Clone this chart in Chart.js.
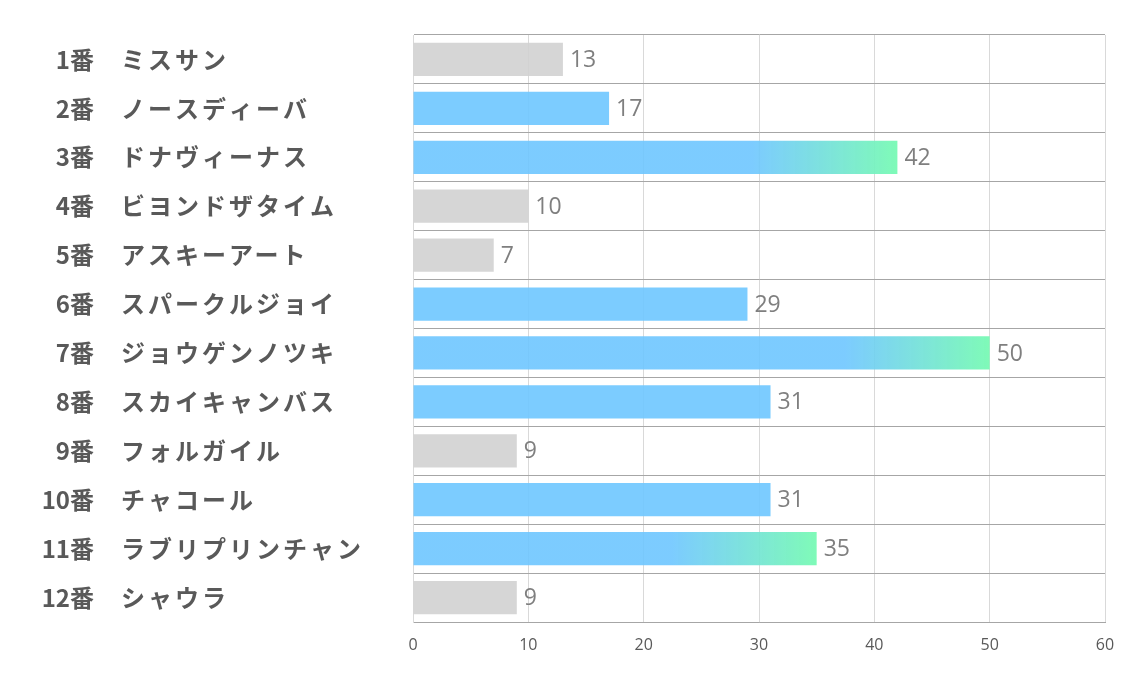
<!DOCTYPE html>
<html lang="ja">
<head>
    <meta charset="UTF-8">
    <title>Chart</title>
    <script src="https://cdn.jsdelivr.net/npm/chart.js@4"></script>
    <style>
        html, body { margin: 0; padding: 0; background: #fff; }
        #wrap { width: 1134px; height: 680px; }
    </style>
</head>
<body>
<div id="wrap"><canvas id="myChart" width="1134" height="680"></canvas></div>
<script>
    // data
    var numbers = ["1番", "2番", "3番", "4番", "5番", "6番", "7番", "8番", "9番", "10番", "11番", "12番"];
    var names = ["ミスサン", "ノースディーバ", "ドナヴィーナス", "ビヨンドザタイム", "アスキーアート", "スパークルジョイ",
        "ジョウゲンノツキ", "スカイキャンバス", "フォルガイル", "チャコール", "ラブリプリンチャン", "シャウラ"];
    var values = [13, 17, 42, 10, 7, 29, 50, 31, 9, 31, 35, 9];
    var xTicks = [0, 10, 20, 30, 40, 50, 60];

    var BLUE = 'rgba(110,198,255,0.9)';
    var GREEN = 'rgba(120,250,180,0.95)';
    var GRAY = 'rgba(208,208,208,0.88)';

    // top three get the gradient, low ones are grey
    var sorted = values.slice().sort(function (a, b) { return b - a; });
    var topLimit = sorted[2];

    function barColor(c) {
        var v = c.raw;
        if (v < 15) return GRAY;
        if (v < topLimit) return BLUE;
        var chart = c.chart;
        if (!chart.chartArea || !chart.scales.x) return BLUE;
        var end = chart.scales.x.getPixelForValue(v);
        var g = chart.ctx.createLinearGradient(end - 145, 0, end, 0);
        g.addColorStop(0, BLUE);
        g.addColorStop(1, GREEN);
        return g;
    }

    var labelPlugin = {
        id: 'labels',
        afterDatasetsDraw: function (chart) {
            var ctx = chart.ctx;
            var y = chart.scales.y;
            var meta = chart.getDatasetMeta(0);
            ctx.save();
            ctx.textBaseline = 'middle';
            for (var i = 0; i < names.length; i++) {
                var py = y.getPixelForValue(i);
                ctx.fillStyle = '#595959';
                ctx.font = 'bold 24px "Noto Sans CJK JP", sans-serif';
                ctx.textAlign = 'right';
                ctx.letterSpacing = '0px';
                ctx.fillText(numbers[i], 94, py);
                ctx.textAlign = 'left';
                ctx.letterSpacing = '3px';
                ctx.fillText(names[i], 121, py);
                ctx.letterSpacing = '0px';
                // value labels
                var bar = meta.data[i];
                ctx.fillStyle = '#7f7f7f';
                ctx.font = '23px "Open Sans", sans-serif';
                ctx.textAlign = 'left';
                ctx.fillText(String(values[i]), bar.x + 7, py + 1);
            }
            ctx.restore();
        }
    };

    var ctx = document.getElementById('myChart').getContext('2d');
    var chart = new Chart(ctx, {
        type: 'bar',
        data: {
            labels: names,
            datasets: [{
                data: values,
                backgroundColor: barColor,
                borderWidth: 0,
                barPercentage: 0.68,
                categoryPercentage: 1.0
            }]
        },
        options: {
            indexAxis: 'y',
            responsive: false,
            animation: false,
            layout: { padding: { left: 0, right: 29, top: 35, bottom: 0 } },
            plugins: {
                legend: { display: false },
                tooltip: { enabled: false }
            },
            scales: {
                x: {
                    min: 0,
                    max: 60,
                    afterBuildTicks: function (axis) {
                        axis.ticks = xTicks.map(function (v) { return { value: v }; });
                    },
                    afterFit: function (axis) { axis.height = 58; },
                    grid: { color: '#d9d9d9', lineWidth: 1, drawTicks: false },
                    border: { color: '#a6a6a6', width: 1 },
                    ticks: {
                        color: '#595959',
                        padding: 14,
                        maxRotation: 0,
                        font: { family: '"Open Sans", sans-serif', size: 16 }
                    }
                },
                y: {
                    afterFit: function (axis) { axis.width = 413; },
                    grid: { color: '#a6a6a6', lineWidth: 1, drawTicks: false, offset: true },
                    border: { color: '#d9d9d9', width: 1 },
                    ticks: { display: false }
                }
            }
        },
        plugins: [labelPlugin]
    });
</script>
</body>
</html>
